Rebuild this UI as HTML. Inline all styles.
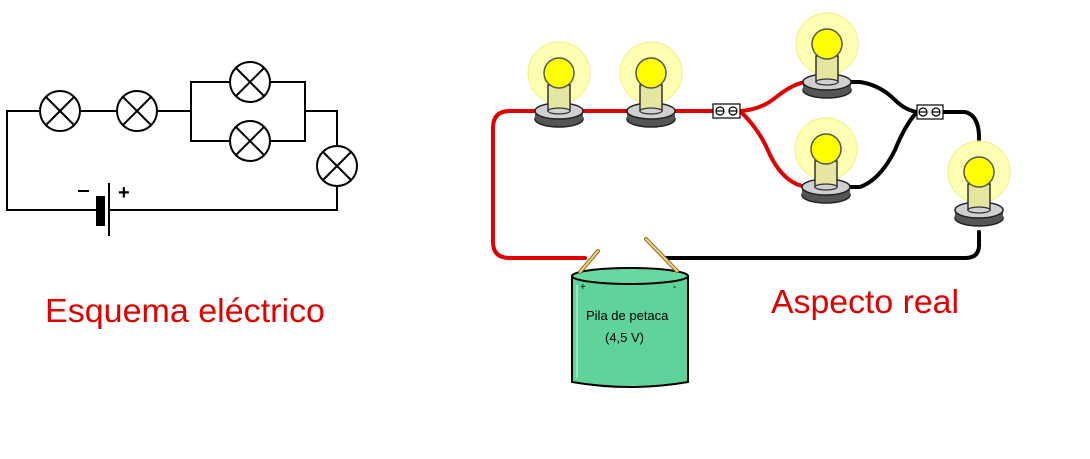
<!DOCTYPE html>
<html><head><meta charset="utf-8"><style>html,body{margin:0;padding:0;background:#fff}svg{display:block}</style></head>
<body>
<svg width="1090" height="459" viewBox="0 0 1090 459" xmlns="http://www.w3.org/2000/svg">
<defs>
<g id="bulb">
  <circle cx="0" cy="-38" r="31" fill="#ffff99" fill-opacity="0.75" stroke="#f0f080" stroke-width="1"/>
  <ellipse cx="0" cy="8" rx="24" ry="8" fill="#555" stroke="#222" stroke-width="1.5"/>
  <rect x="-24" y="0" width="48" height="8" fill="#555"/>
  <ellipse cx="0" cy="0" rx="24" ry="8" fill="#d0d0d0" stroke="#222" stroke-width="1.5"/>
  <rect x="-11" y="-26" width="22" height="26" fill="#e6e6a0" stroke="#333" stroke-width="1.5"/>
  <ellipse cx="0" cy="0" rx="11" ry="3" fill="#d0d0d0" stroke="#333" stroke-width="1.2"/>
  <circle cx="0" cy="-38" r="15" fill="#ffff00" stroke="#555" stroke-width="1.5"/>
</g>
<g id="lamp">
  <circle cx="0" cy="0" r="20" fill="#fff" stroke="#000" stroke-width="2"/>
  <line x1="-14" y1="-14" x2="14" y2="14" stroke="#000" stroke-width="2"/>
  <line x1="-14" y1="14" x2="14" y2="-14" stroke="#000" stroke-width="2"/>
</g>
</defs>

<g fill="none" stroke="#000" stroke-width="2">
  <polyline points="97,210 7,210 7,111 40,111"/>
  <line x1="80" y1="111" x2="117" y2="111"/>
  <polyline points="157,111 191,111"/>
  <polyline points="231,82 191,82 191,141 231,141"/>
  <polyline points="269,82 305,82 305,141 269,141"/>
  <polyline points="305,111 337,111 337,146"/>
  <polyline points="337,186 337,210 109,210"/>
</g>
<use href="#lamp" x="60" y="111"/>
<use href="#lamp" x="137" y="111"/>
<use href="#lamp" x="250" y="82"/>
<use href="#lamp" x="250" y="141"/>
<use href="#lamp" x="337" y="166"/>
<rect x="96" y="196" width="9" height="30" fill="#000"/>
<line x1="109" y1="183" x2="109" y2="236" stroke="#000" stroke-width="2"/>
<line x1="78" y1="191" x2="89" y2="191" stroke="#000" stroke-width="2"/>
<text x="118" y="199" font-family="Liberation Sans, sans-serif" font-size="20" font-weight="bold">+</text>
<text x="45" y="322" font-family="Liberation Sans, sans-serif" font-size="33" fill="#e00000" textLength="280" lengthAdjust="spacingAndGlyphs">Esquema eléctrico</text>

<g fill="none" stroke-linecap="round" stroke-width="4">
  <path d="M540,111 L510,111 Q493,111 493,128 L493,242 Q493,258 510,258 L585,258" stroke="#e00000"/>
  <path d="M578,111 L632,111 M670,111 L713,111" stroke="#e00000"/>
  <path d="M740,111 Q760,110 775,98 Q795,82 808,82" stroke="#e00000"/>
  <path d="M740,111 Q760,130 770,155 Q785,185 808,187" stroke="#e00000"/>
  <path d="M846,82 L860,82 Q880,85 895,100 Q905,110 917,112" stroke="#000"/>
  <path d="M846,187 L860,187 Q880,180 895,150 Q905,125 917,112" stroke="#000"/>
  <path d="M943,112 L965,112 Q978,115 979,135 L979,140" stroke="#000"/>
  <path d="M979,232 L979,245 Q979,258 965,258 L665,258" stroke="#000"/>
</g>
<use href="#bulb" x="559" y="111"/>
<use href="#bulb" x="651" y="111"/>
<use href="#bulb" x="827" y="82"/>
<use href="#bulb" x="826" y="187"/>
<use href="#bulb" x="979" y="210"/>
<g stroke="#000" stroke-width="1.2" fill="#fff">
  <rect x="713" y="104" width="27" height="14"/>
  <circle cx="720" cy="111" r="4"/><circle cx="733" cy="111" r="4"/>
  <line x1="716" y1="111" x2="724" y2="111"/><line x1="729" y1="111" x2="737" y2="111"/>
  <rect x="917" y="105" width="26" height="14"/>
  <circle cx="923" cy="112" r="4"/><circle cx="936" cy="112" r="4"/>
  <line x1="919" y1="112" x2="927" y2="112"/><line x1="932" y1="112" x2="940" y2="112"/>
</g>
<path d="M572,276 L572,382 Q630,392 688,382 L688,276 Z" fill="#5fd39a" stroke="#000" stroke-width="2"/>
<ellipse cx="630" cy="276" rx="58" ry="8" fill="#66d8a0" stroke="#000" stroke-width="2"/>
<line x1="577" y1="285" x2="577" y2="378" stroke="#9ee8c0" stroke-width="2"/>
<g stroke="#8a6a20" stroke-width="4" stroke-linecap="round"><line x1="580" y1="272" x2="598" y2="251"/><line x1="677" y1="271" x2="646" y2="239"/></g>
<g stroke="#f0d080" stroke-width="2" stroke-linecap="round"><line x1="580" y1="272" x2="598" y2="251"/><line x1="677" y1="271" x2="646" y2="239"/></g>
<g font-family="Liberation Sans, sans-serif" fill="#000">
<text x="580" y="290" font-size="10">+</text>
<text x="673" y="290" font-size="10">-</text>
<text x="586" y="320" font-size="13">Pila de petaca</text>
<text x="605" y="342" font-size="13">(4,5 V)</text>
</g>
<text x="771" y="313" font-family="Liberation Sans, sans-serif" font-size="33" fill="#e00000" textLength="188" lengthAdjust="spacingAndGlyphs">Aspecto real</text>
</svg>
</body></html>
